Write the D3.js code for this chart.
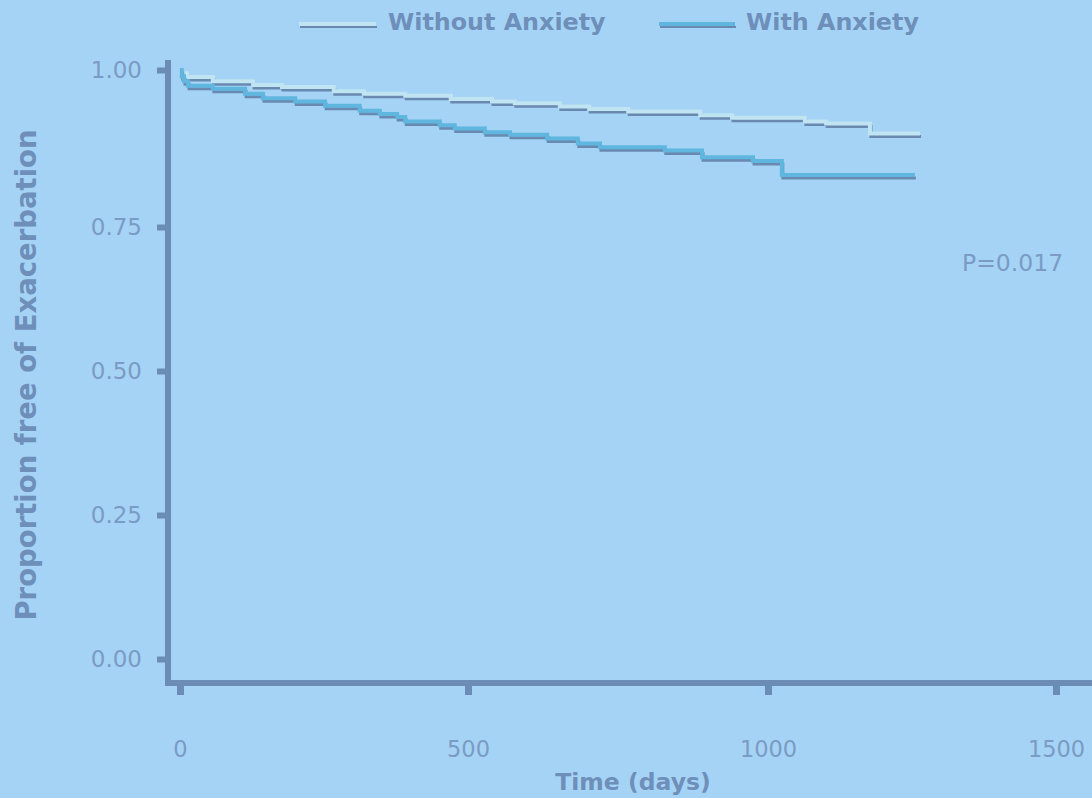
<!DOCTYPE html>
<html>
<head>
<meta charset="utf-8">
<script src="https://cdn.jsdelivr.net/npm/d3@7"></script>
<style>
  html, body { margin: 0; padding: 0; background: #a5d3f5; }
  svg { display: block; }
</style>
</head>
<body>
<svg id="chart" width="1092" height="798"></svg>
<script>
// ---- data ----
const seriesNames = ["Without Anxiety", "With Anxiety"];
const timeWithout = [0, 3, 12, 57, 127, 177, 267, 319, 391, 470, 540, 578, 653, 702, 767, 887, 940, 1064, 1101, 1177, 1264];
const survWithout = [1.0, 0.995, 0.989, 0.982, 0.976, 0.973, 0.966, 0.962, 0.959, 0.954, 0.950, 0.947, 0.942, 0.938, 0.934, 0.928, 0.924, 0.918, 0.915, 0.899, 0.899];
const timeWith = [0, 3, 7, 14, 57, 113, 144, 200, 252, 312, 347, 377, 391, 451, 477, 528, 570, 632, 683, 720, 828, 890, 975, 1024, 1255];
const survWith = [1.0, 0.990, 0.982, 0.975, 0.970, 0.962, 0.955, 0.950, 0.943, 0.935, 0.930, 0.925, 0.918, 0.912, 0.907, 0.901, 0.897, 0.891, 0.883, 0.877, 0.872, 0.861, 0.855, 0.833, 0.833];
const xTicks = [0, 500, 1000, 1500];
const yTicks = [0, 0.25, 0.5, 0.75, 1.0];
const pValueLabel = "P=0.017";
const xTitle = "Time (days)";
const yTitle = "Proportion free of Exacerbation";

// ---- styles ----
const bg = "#a5d3f5";
const axisColor = "#6b8cb4";
const tickTextColor = "#7b9bc4";
const titleColor = "#6e8fb9";
const colWithout = "#c0e4f2";
const colWith = "#5fb6df";
const shadowColor = "#6a89b1";
const fontFam = "'DejaVu Sans', Verdana, sans-serif";

const svg = d3.select("#chart");
svg.append("rect").attr("width", 1092).attr("height", 798).attr("fill", bg);

// piecewise scales following the reference's tick positions
const x = d3.scaleLinear().domain(xTicks).range([180, 468, 768, 1056]);
const y = d3.scaleLinear().domain(yTicks).range([659, 515, 371, 227, 70]);

// axis lines
svg.append("line").attr("x1", 168).attr("x2", 168).attr("y1", 60).attr("y2", 686)
  .attr("stroke", axisColor).attr("stroke-width", 6);
svg.append("line").attr("x1", 165).attr("x2", 1092).attr("y1", 683).attr("y2", 683)
  .attr("stroke", axisColor).attr("stroke-width", 6);

// y axis
const yAxis = d3.axisLeft(y).tickValues(yTicks).tickFormat(d3.format(".2f"))
  .tickSize(8).tickSizeOuter(0).tickPadding(15);
const gy = svg.append("g").attr("transform", "translate(165,0)").call(yAxis);
gy.select(".domain").remove();
gy.selectAll(".tick line").attr("stroke", axisColor).attr("stroke-width", 6);
gy.selectAll(".tick text").attr("fill", tickTextColor)
  .style("font-family", fontFam).style("font-size", "23px");

// x axis
const xAxis = d3.axisBottom(x).tickValues(xTicks).tickFormat(d3.format("d"))
  .tickSize(9).tickSizeOuter(0).tickPadding(46);
const gx = svg.append("g").attr("transform", "translate(0,686)").call(xAxis);
gx.select(".domain").remove();
gx.selectAll(".tick line").attr("stroke", axisColor).attr("stroke-width", 7);
gx.selectAll(".tick text").attr("fill", tickTextColor)
  .style("font-family", fontFam).style("font-size", "22.5px");

// curves
const line = d3.line().x(d => x(d[0])).y(d => y(d[1])).curve(d3.curveStepAfter);
const dataWithout = timeWithout.map((t, i) => [t, survWithout[i]]);
const dataWith = timeWith.map((t, i) => [t, survWith[i]]);

function drawCurve(data, color) {
  svg.append("path").datum(data).attr("d", line)
    .attr("fill", "none").attr("stroke", shadowColor).attr("stroke-width", 3)
    .attr("transform", "translate(1,3)");
  svg.append("path").datum(data).attr("d", line)
    .attr("fill", "none").attr("stroke", color).attr("stroke-width", 4);
}
drawCurve(dataWithout, colWithout);
drawCurve(dataWith, colWith);

// legend
const legendItems = [
  { name: seriesNames[0], color: colWithout, x1: 299, x2: 376, tx: 388 },
  { name: seriesNames[1], color: colWith, x1: 659, x2: 735, tx: 746 }
];
legendItems.forEach(it => {
  svg.append("line").attr("x1", it.x1 + 1).attr("x2", it.x2 + 1).attr("y1", 27).attr("y2", 27)
    .attr("stroke", shadowColor).attr("stroke-width", 2);
  svg.append("line").attr("x1", it.x1).attr("x2", it.x2).attr("y1", 24).attr("y2", 24)
    .attr("stroke", it.color).attr("stroke-width", 4);
  svg.append("text").attr("x", it.tx).attr("y", 30).text(it.name)
    .attr("fill", titleColor)
    .style("font-family", fontFam)
    .style("font-weight", "bold").style("font-size", "23.8px");
});

// p-value
svg.append("text").attr("x", 962).attr("y", 271).text(pValueLabel)
  .attr("fill", tickTextColor)
  .style("font-family", fontFam).style("font-size", "23.5px");

// axis titles
svg.append("text").attr("x", 633).attr("y", 790).attr("text-anchor", "middle").text(xTitle)
  .attr("fill", titleColor)
  .style("font-family", fontFam)
  .style("font-weight", "bold").style("font-size", "23.5px");
svg.append("text").attr("transform", "translate(36,375) rotate(-90)")
  .attr("text-anchor", "middle").text(yTitle)
  .attr("fill", titleColor)
  .style("font-family", fontFam)
  .style("font-weight", "bold").style("font-size", "27.5px");
</script>
</body>
</html>
